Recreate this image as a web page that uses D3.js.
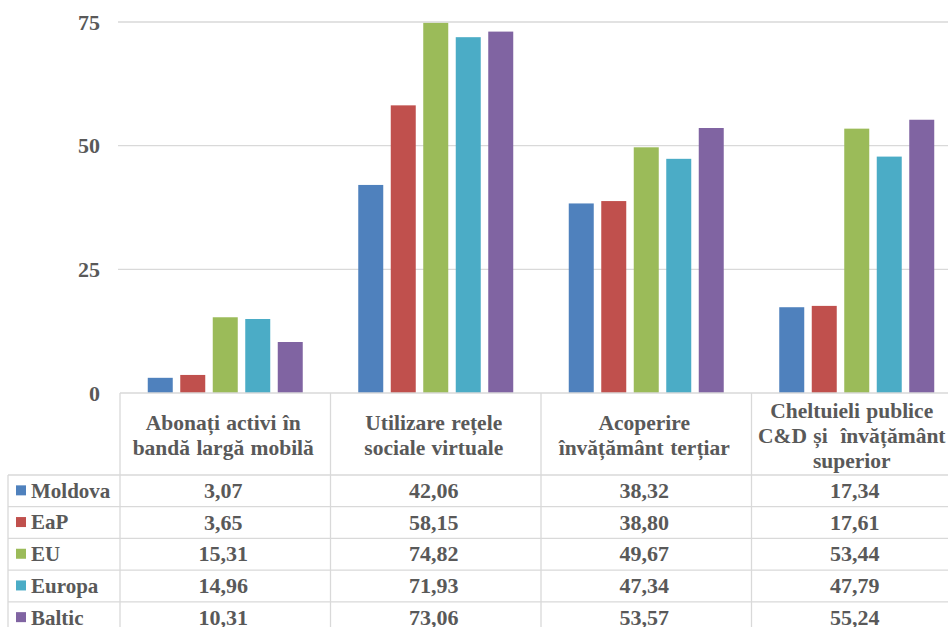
<!DOCTYPE html>
<html><head><meta charset="utf-8">
<script src="https://cdn.jsdelivr.net/npm/d3@7"></script>
<style>body{margin:0;background:#fff}svg{display:block}</style>
</head><body>
<script>
const categories = [
  ["Abonați activi în", "bandă largă mobilă"],
  ["Utilizare rețele", "sociale virtuale"],
  ["Acoperire", "învățământ terțiar"],
  ["Cheltuieli publice", "C&D și  învățământ", "superior"]
];
const seriesNames = ["Moldova", "EaP", "EU", "Europa", "Baltic"];
const seriesColors = ["#4F81BD", "#C0504D", "#9BBB59", "#4BACC6", "#8064A2"];
const moldova = [3.07, 42.06, 38.32, 17.34];
const eap     = [3.65, 58.15, 38.80, 17.61];
const eu      = [15.31, 74.82, 49.67, 53.44];
const europa  = [14.96, 71.93, 47.34, 47.79];
const baltic  = [10.31, 73.06, 53.57, 55.24];
const seriesValues = [moldova, eap, eu, europa, baltic];
const yTicks = [0, 25, 50, 75];

const W = 948, H = 627;
const FONT = "Liberation Serif";
const TXT = "#595959";
const svg = d3.select("body").append("svg").attr("width", W).attr("height", H);

function label(g, xp, yp, s, size, anchor) {
  return g.append("text").attr("x", xp).attr("y", yp).attr("dy", "0.35em")
    .attr("font-family", FONT).attr("font-weight", "bold").attr("font-size", size)
    .attr("fill", TXT).attr("text-anchor", anchor).text(s);
}

const catIdx = d3.range(categories.length);
const x = d3.scaleBand().domain(catIdx).range([120, 962]);
const xs = d3.scaleBand().domain(d3.range(seriesNames.length)).range([0, x.bandwidth()])
  .paddingInner(0.2308).paddingOuter(0.854);
const y = d3.scaleLinear().domain([0, 75]).range([393, 22]);

const grid = "#d9d9d9";
svg.append("g").selectAll("line").data(yTicks.filter(t => t > 0)).join("line")
  .attr("x1", 118).attr("x2", W).attr("y1", d => y(d)).attr("y2", d => y(d))
  .attr("stroke", grid).attr("stroke-width", 1.3);

const yAxis = d3.axisLeft(y).tickValues(yTicks).tickSize(0).tickPadding(0);
const ga = svg.append("g").attr("transform", "translate(100,0)").call(yAxis);
ga.select(".domain").remove();
ga.selectAll("text").attr("font-family", FONT).attr("font-size", 22).attr("font-weight", "bold")
  .attr("fill", TXT).attr("dy", "0.32em");

seriesValues.forEach((vals, si) => {
  svg.append("g").selectAll("rect").data(vals).join("rect")
    .attr("x", (d, i) => x(i) + xs(si))
    .attr("width", xs.bandwidth())
    .attr("y", d => y(d))
    .attr("height", d => y(0) - y(d))
    .attr("fill", seriesColors[si]);
});

const rowTop = 475, rowH = 31.7;
const t = svg.append("g");
t.append("line").attr("x1", 120).attr("x2", W).attr("y1", y(0)).attr("y2", y(0)).attr("stroke", grid).attr("stroke-width", 1.3);
catIdx.forEach(i => {
  t.append("line").attr("x1", x(i)).attr("x2", x(i)).attr("y1", y(0)).attr("y2", H).attr("stroke", grid).attr("stroke-width", 1.3);
});
t.append("line").attr("x1", 8).attr("x2", 8).attr("y1", rowTop).attr("y2", H).attr("stroke", grid).attr("stroke-width", 1.3);
seriesNames.forEach((s, r) => {
  t.append("line").attr("x1", 8).attr("x2", W).attr("y1", rowTop + r * rowH).attr("y2", rowTop + r * rowH)
    .attr("stroke", grid).attr("stroke-width", 1.3);
});
categories.forEach((lines, i) => {
  // last column is cut by the picture edge; its header is centred on the visible part
  const cx = i === categories.length - 1 ? (x(i) + W) / 2 + 2 : x(i) + x.bandwidth() / 2 - 2;
  const lh = 25;
  const mid = (y(0) + rowTop) / 2 + 1;
  const start = mid - (lines.length - 1) * lh / 2;
  lines.forEach((ln, k) => {
    label(t, cx, start + k * lh, ln, 21.5, "middle")
      .attr("word-spacing", 1).attr("xml:space", "preserve").style("white-space", "pre");
  });
});
seriesNames.forEach((s, r) => {
  const cy = rowTop + r * rowH + rowH / 2 - 0.5;
  t.append("rect").attr("x", 16).attr("y", cy - 5).attr("width", 10).attr("height", 10).attr("fill", seriesColors[r]);
  label(t, 31, cy, s, 21, "start");
  seriesValues[r].forEach((v, i) => {
    label(t, x(i) + x.bandwidth() / 2 - 2, cy, v.toFixed(2).replace(".", ","), 22, "middle");
  });
});
</script>
</body></html>
